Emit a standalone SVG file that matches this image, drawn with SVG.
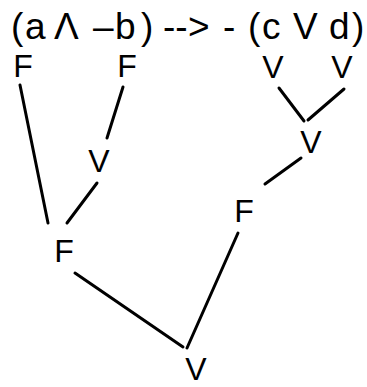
<svg xmlns="http://www.w3.org/2000/svg" width="367" height="387" viewBox="0 0 367 387">
<style>
  .t { font-family: "Liberation Sans", Arial, sans-serif; fill: #000; }
  .title { font-size: 37px; }
  .lbl { font-size: 32px; text-anchor: middle; }
  .edge { stroke: #000; stroke-width: 3; fill: none; stroke-linecap: round; }
</style>
<rect width="367" height="387" fill="#fff"/>
<g id="formula">
  <text class="t title" y="39"><tspan x="11">(</tspan><tspan x="25">a</tspan><tspan x="54">Λ</tspan><tspan x="93">–</tspan><tspan x="115">b</tspan><tspan x="141">)</tspan><tspan x="163">--</tspan><tspan x="188">&gt;</tspan><tspan x="223">-</tspan><tspan x="248">(</tspan><tspan x="262">c</tspan><tspan x="293">V</tspan><tspan x="329">d</tspan><tspan x="352">)</tspan></text>
</g>
<g id="n-a"><text class="t lbl" x="23" y="77">F</text></g>
<g id="n-b"><text class="t lbl" x="127" y="77">F</text></g>
<g id="n-c"><text class="t lbl" x="273" y="78">V</text></g>
<g id="n-d"><text class="t lbl" x="342" y="78">V</text></g>
<g id="n-notb"><text class="t lbl" x="99" y="172">V</text></g>
<g id="n-or"><text class="t lbl" x="311" y="153">V</text></g>
<g id="n-notor"><text class="t lbl" x="244" y="222">F</text></g>
<g id="n-and"><text class="t lbl" x="64" y="262">F</text></g>
<g id="n-impl"><text class="t lbl" x="196" y="380">V</text></g>
<g id="connectors">
  <line class="edge" x1="20" y1="85" x2="48" y2="223"/>
  <line class="edge" x1="123" y1="87" x2="107" y2="138"/>
  <line class="edge" x1="97" y1="183" x2="67" y2="223"/>
  <line class="edge" x1="279" y1="88" x2="304" y2="121"/>
  <line class="edge" x1="344" y1="89" x2="308" y2="120"/>
  <line class="edge" x1="301" y1="158" x2="265" y2="184"/>
  <line class="edge" x1="238" y1="233" x2="187" y2="348"/>
  <line class="edge" x1="75" y1="273" x2="183" y2="347"/>
</g>
</svg>
